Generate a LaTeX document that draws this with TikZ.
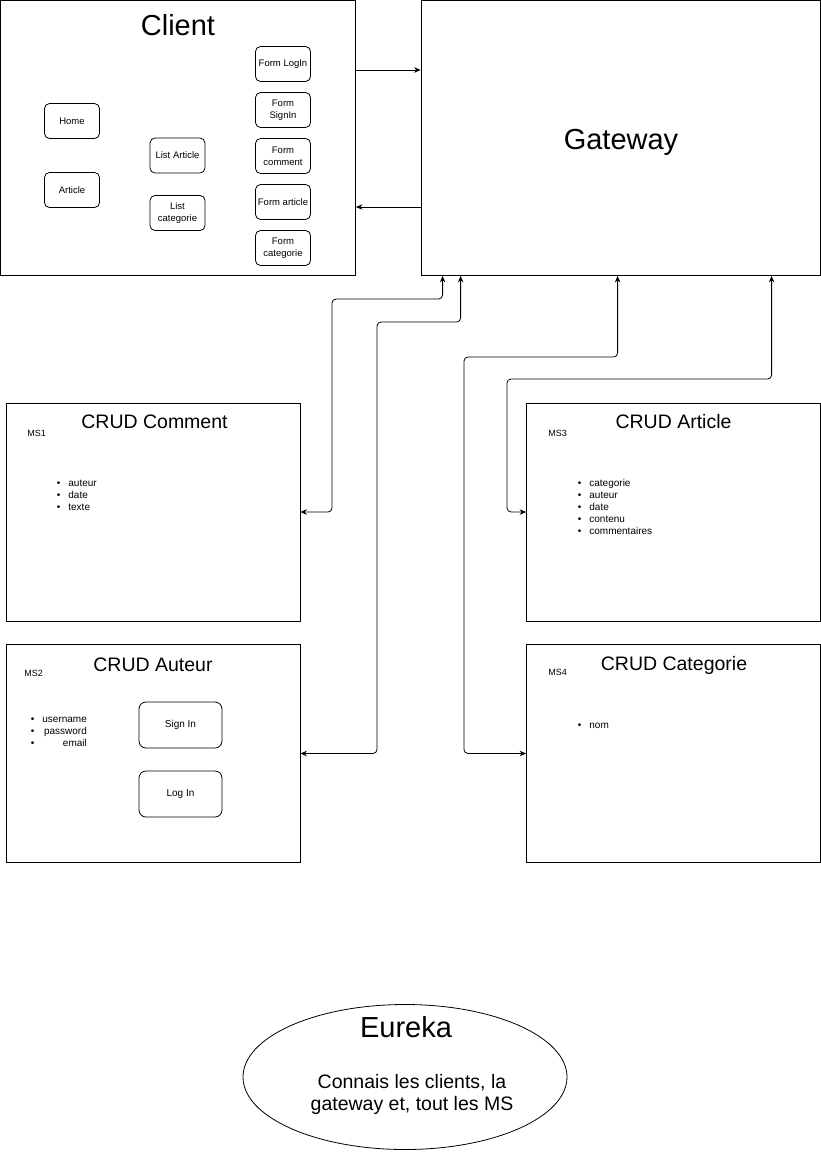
\documentclass[tikz,border=0pt]{standalone}
\usepackage{fontspec}
\setmainfont{Liberation Sans}
\usepackage{tikz}
\usetikzlibrary{arrows.meta}
\usetikzlibrary{shapes.geometric}

\begin{document}
\begin{tikzpicture}[x=1pt, y=-1pt, line width=0.8pt,
    big box/.style={draw, inner sep=0pt, minimum height=275pt},
    ms box/.style={draw, inner sep=0pt, minimum width=294pt, minimum height=218pt},
    page node/.style={draw, rounded corners=5pt, minimum width=55pt, minimum height=35pt, inner sep=1pt, align=center, font=\fontsize{9.5}{12}\selectfont},
    auth node/.style={page node, minimum width=83pt, minimum height=46pt, rounded corners=7pt, font=\fontsize{10}{12}\selectfont},
    big title/.style={anchor=base, font=\fontsize{29}{32}\selectfont},
    crud title/.style={anchor=base, font=\fontsize{19.5}{22}\selectfont},
    ms label/.style={anchor=base west, inner sep=0pt, font=\fontsize{9}{11}\selectfont},
    field list/.style={anchor=base west, inner sep=0pt, font=\fontsize{10}{12}\selectfont},
    one way/.style={-{Stealth[length=6.5pt,width=5.5pt]}},
    both ways/.style={{Stealth[length=6.5pt,width=5.5pt]}-{Stealth[length=6.5pt,width=5.5pt]}, rounded corners=4pt},
    ]
  \useasboundingbox (0,0) rectangle (821,1152);

  \node[big box, minimum width=355pt] (client) at (178,138) {};
  \node[big title] (client title) at (178,35) {Client};
  \node[big box, minimum width=399pt] (gw) at (620.5,138) {};
  \node[big title] (gw title) at (621,149) {Gateway};

  \node[page node] (home) at (72,121) {Home};
  \node[page node] (article) at (72,190) {Article};
  \node[page node] (list article) at (177.5,155.5) {List Article};
  \node[page node] (list categorie) at (177.5,213) {List\\categorie};
  \node[page node] (form login) at (283,64) {Form LogIn};
  \node[page node] (form signin) at (283,110) {Form\\SignIn};
  \node[page node] (form comment) at (283,156) {Form\\comment};
  \node[page node] (form article) at (283,202) {Form article};
  \node[page node] (form categorie) at (283,248) {Form\\categorie};

  \node[ms box] (ms1) at (153,512) {};
  \node[crud title] (ms1 title) at (154.5,428.5) {CRUD Comment};
  \node[ms label] (ms1 label) at (27,436) {MS1};
  \node[field list] (ms1 fields) at (56.5,486)
    {\begin{tabular}[t]{@{}c@{\hspace{8pt}}l@{}}\textbullet & auteur\\ \textbullet & date\\ \textbullet & texte\end{tabular}};

  \node[ms box] (ms2) at (153,753.5) {};
  \node[crud title] (ms2 title) at (153,671) {CRUD Auteur};
  \node[ms label] (ms2 label) at (24,676.5) {MS2};
  \node[field list] (ms2 fields) at (30.5,722)
    {\begin{tabular}[t]{@{}c@{\hspace{8pt}}r@{}}\textbullet & username\\ \textbullet & password\\ \textbullet & email\end{tabular}};
  \node[auth node] (sign in) at (180.5,725) {Sign In};
  \node[auth node] (log in) at (180.5,794) {Log In};

  \node[ms box] (ms3) at (673.5,512) {};
  \node[crud title] (ms3 title) at (673.5,428.5) {CRUD Article};
  \node[ms label] (ms3 label) at (548,436.5) {MS3};
  \node[field list] (ms3 fields) at (577.5,486)
    {\begin{tabular}[t]{@{}c@{\hspace{8pt}}l@{}}\textbullet & categorie\\ \textbullet & auteur\\ \textbullet & date\\ \textbullet & contenu\\ \textbullet & commentaires\end{tabular}};

  \node[ms box] (ms4) at (673.5,753.5) {};
  \node[crud title] (ms4 title) at (674,670) {CRUD Categorie};
  \node[ms label] (ms4 label) at (548,675.5) {MS4};
  \node[field list] (ms4 fields) at (577.5,728)
    {\begin{tabular}[t]{@{}c@{\hspace{8pt}}l@{}}\textbullet & nom\end{tabular}};

  \node[draw, ellipse, minimum width=324pt, minimum height=145pt] (eureka) at (405,1077) {};
  \node[big title] (eureka title) at (406,1037) {Eureka};
  \node[anchor=base, align=center, font=\fontsize{19.5}{22}\selectfont] (eureka text) at (412,1110)
    {Connais les clients, la\\gateway et, tout les MS};

  \draw[one way] ([yshift=68pt]client.east) -- ([yshift=68pt]gw.west);
  \draw[one way] ([yshift=-69pt]gw.west) -- ([yshift=-69pt]client.east);

  \draw[both ways] ([xshift=22pt]gw.south west) |- (332,299) |- (ms1.east);
  \draw[both ways] ([xshift=40pt]gw.south west) |- (377,322) |- (ms2.east);
  \draw[both ways] ([xshift=197pt]gw.south west) |- (464,357) |- (ms4.west);
  \draw[both ways] ([xshift=351pt]gw.south west) |- (507,379) |- (ms3.west);
\end{tikzpicture}
\end{document}
